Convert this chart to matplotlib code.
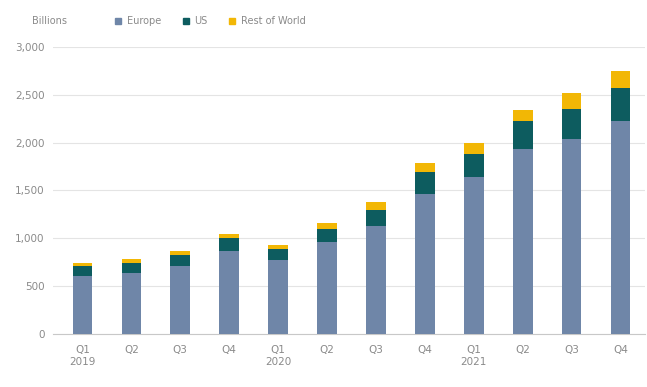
import numpy as np
import matplotlib
matplotlib.use("Agg")
import matplotlib.pyplot as plt
from matplotlib.lines import Line2D

plt.rcParams['font.family'] = ['Liberation Sans Narrow', 'DejaVu Sans']

quarters = ["Q1\n2019", "Q2", "Q3", "Q4", "Q1\n2020", "Q2", "Q3", "Q4",
            "Q1\n2021", "Q2", "Q3", "Q4"]
europe = [605, 640, 715, 865, 770, 960, 1125, 1465, 1640, 1930, 2035, 2230]
us = [100, 105, 115, 140, 120, 140, 175, 225, 245, 295, 320, 345]
rest_of_world = [35, 35, 35, 40, 35, 60, 75, 100, 115, 110, 160, 175]

C_EU = "#6f86a8"
C_US = "#0d5c5f"
C_ROW = "#f2b705"
TXT = "#8a8a8a"

fig = plt.figure(figsize=(6.47, 3.87), dpi=100)
ax = fig.add_axes([0.082, 0.137, 0.915, 0.742])

x = np.arange(len(quarters))
eu = np.array(europe)
u = np.array(us)
r = np.array(rest_of_world)
w = 0.4
ax.bar(x, eu, w, color=C_EU, zorder=3)
ax.bar(x, u, w, bottom=eu, color=C_US, zorder=3)
ax.bar(x, r, w, bottom=eu + u, color=C_ROW, zorder=3)

ax.set_ylim(0, 3000)
ax.set_xlim(-0.6, 11.5)
ax.set_yticks(np.arange(0, 3001, 500))
ax.set_yticklabels([f"{v:,}" for v in range(0, 3001, 500)])
ax.set_xticks(x)
ax.set_xticklabels(quarters)
ax.grid(axis="y", color="#e4e4e4", linewidth=0.8, zorder=0)
for s in ["top", "right", "left"]:
    ax.spines[s].set_visible(False)
ax.spines["bottom"].set_color("#c8c8c8")
ax.tick_params(axis="both", length=0, colors=TXT, labelsize=7.5)
ax.tick_params(axis="x", pad=8)
ax.tick_params(axis="y", pad=6)

fig.text(0.05, 0.945, "Billions", color=TXT, fontsize=7, va="center")
handles = [Line2D([], [], marker="s", linestyle="", color=c, markersize=5)
           for c in [C_EU, C_US, C_ROW]]
fig.legend(handles, ["Europe", "US", "Rest of World"], loc="center left",
           bbox_to_anchor=(0.162, 0.945), ncol=3, frameon=False, fontsize=7,
           labelcolor=TXT, handletextpad=0.4, columnspacing=2.0,
           handlelength=1.0)

fig.savefig("out.png", dpi=100)
